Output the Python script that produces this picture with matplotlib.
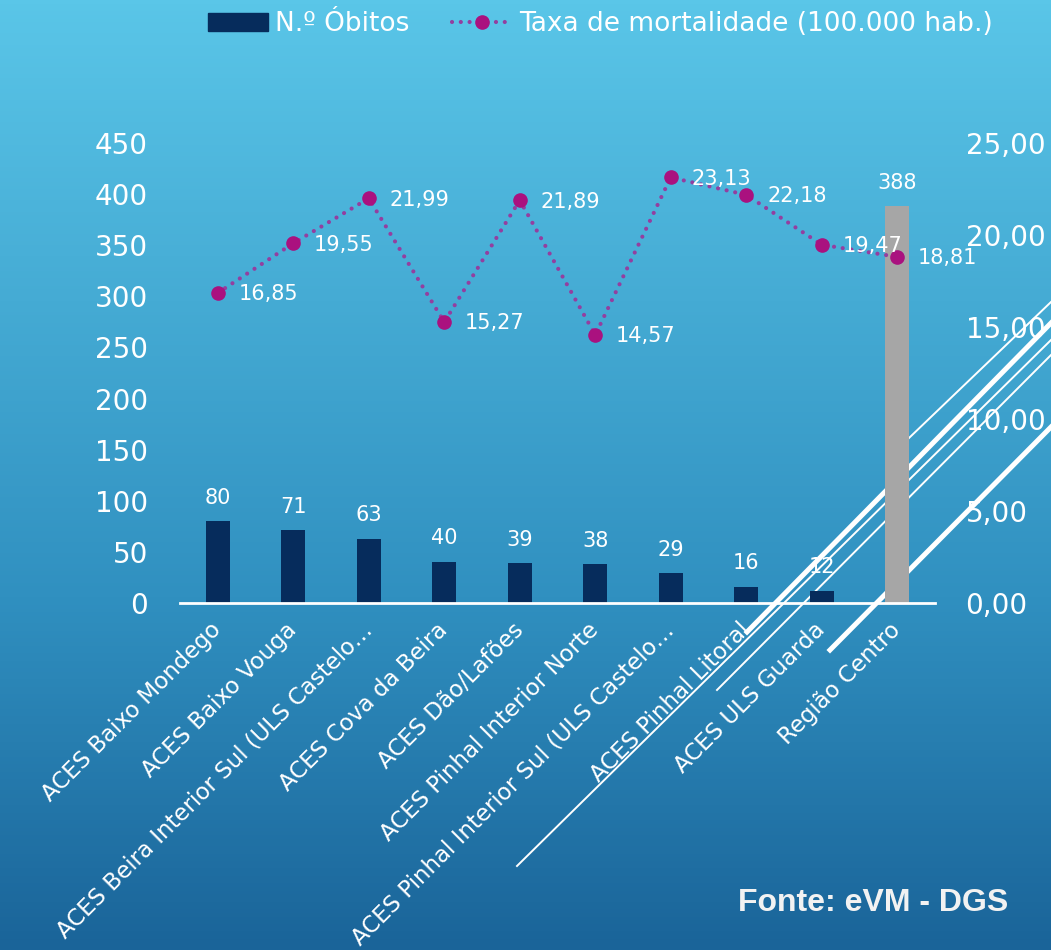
import numpy as np
import matplotlib
matplotlib.use('Agg')
import matplotlib.pyplot as plt
from matplotlib.colors import LinearSegmentedColormap
from matplotlib.lines import Line2D
from matplotlib.patches import Patch

matplotlib.rcParams['font.family'] = ['DejaVu Sans']

categories = ['ACES Baixo Mondego', 'ACES Baixo Vouga', 'ACES Beira Interior Sul (ULS Castelo\u2026',
              'ACES Cova da Beira', 'ACES Dão/Lafões', 'ACES Pinhal Interior Norte',
              'ACES Pinhal Interior Sul (ULS Castelo\u2026', 'ACES Pinhal Litoral',
              'ACES ULS Guarda', 'Região Centro']
obitos = [80, 71, 63, 40, 39, 38, 29, 16, 12, 388]
taxa = [16.85, 19.55, 21.99, 15.27, 21.89, 14.57, 23.13, 22.18, 19.47, 18.81]
left_ticks = [0, 50, 100, 150, 200, 250, 300, 350, 400, 450]
right_ticks = [0, 5, 10, 15, 20, 25]

W, H = 1051, 950
fig = plt.figure(figsize=(W / 100, H / 100), dpi=100)

# gradient background
bg = fig.add_axes([0, 0, 1, 1], zorder=-10)
cmap = LinearSegmentedColormap.from_list('bg', [(0, '#1a6499'), (0.37, '#3090c0'), (1, '#5ac6e8')])
grad = np.linspace(0, 1, 256).reshape(-1, 1)
bg.imshow(grad, aspect='auto', cmap=cmap, origin='lower', extent=[0, 1, 0, 1])
bg.axis('off')

ax = fig.add_axes([180 / W, 1 - 603 / H, 755 / W, 460 / H])
ax.patch.set_visible(False)
x = np.arange(len(categories))
colors = ['#062c5c'] * 9 + ['#a6a6a6']
bars = ax.bar(x, obitos, width=0.32, color=colors, zorder=2)
ax.set_xlim(-0.5, 9.5)
ax.set_ylim(0, 450)
ax.set_yticks(left_ticks)
ax.tick_params(axis='y', length=0, pad=23, labelsize=20, labelcolor='white')
ax.tick_params(axis='x', length=0, pad=17)
ax.set_xticks(x)
ax.set_xticklabels(categories, rotation=45, ha='right', va='center', rotation_mode='anchor',
                   fontsize=16.5, color='white')
for s in ['top', 'left', 'right']:
    ax.spines[s].set_visible(False)
ax.spines['bottom'].set_color('white')
ax.spines['bottom'].set_linewidth(2)
ax.spines['bottom'].set_zorder(2.5)
for xi, v in zip(x, obitos):
    ax.annotate(str(v), (xi, v), xytext=(0, 17), textcoords='offset points',
                ha='center', va='center', fontsize=15, color='white', zorder=3)

# decorative white diagonal lines (behind bars)
deco = [((909, 438), (1051, 302), 1.4),
        ((747, 632), (1051, 323), 3.6),
        ((517, 866), (1051, 340), 1.4),
        ((717, 690), (1051, 355), 1.4),
        ((830, 650), (1051, 427), 3.6)]
for (x0, y0), (x1, y1), lw in deco:
    ax.add_line(Line2D([x0 / W, x1 / W], [1 - y0 / H, 1 - y1 / H], transform=fig.transFigure,
                       color='white', lw=lw, clip_on=False, zorder=1.5))

ax2 = ax.twinx()
ax2.set_ylim(0, 25)
ax2.set_yticks(right_ticks)
ax2.set_yticklabels(['%d,00' % t for t in right_ticks])
ax2.tick_params(axis='y', length=0, pad=22, labelsize=20, labelcolor='white')
for s in ['top', 'left', 'right', 'bottom']:
    ax2.spines[s].set_visible(False)
dot_style = (0, (0.01, 2.1))
ax2.plot(x, taxa, color='#933fa0', lw=3.0, linestyle=dot_style, dash_capstyle='round', zorder=3)
ax2.plot(x, taxa, linestyle='none', marker='o', markersize=9.5, color='#aa117f', zorder=4)
for xi, v in zip(x, taxa):
    ax2.annotate(('%.2f' % v).replace('.', ','), (xi, v), xytext=(15, -1), textcoords='offset points',
                 ha='left', va='center', fontsize=15, color='white', zorder=5)

handles = [Patch(color='#062c5c'),
           Line2D([], [], color='#933fa0', lw=3.0, linestyle=dot_style, dash_capstyle='round',
                  marker='o', markersize=9.5, markerfacecolor='#aa117f', markeredgecolor='#aa117f')]
fig.legend(handles, ['N.º Óbitos', 'Taxa de mortalidade (100.000 hab.)'], loc='center',
           bbox_to_anchor=(0.571, 1 - 24 / H), ncol=2, frameon=False, fontsize=19,
           labelcolor='white', handlelength=2.3, handletextpad=0.25, columnspacing=1.6)

fig.text(1008 / W, 1 - 903 / H, 'Fonte: eVM - DGS', ha='right', va='center', fontsize=23,
         fontweight='bold', color='#f2f2f2', family=['Liberation Sans', 'DejaVu Sans'])

fig.savefig('out.png', dpi=100)
